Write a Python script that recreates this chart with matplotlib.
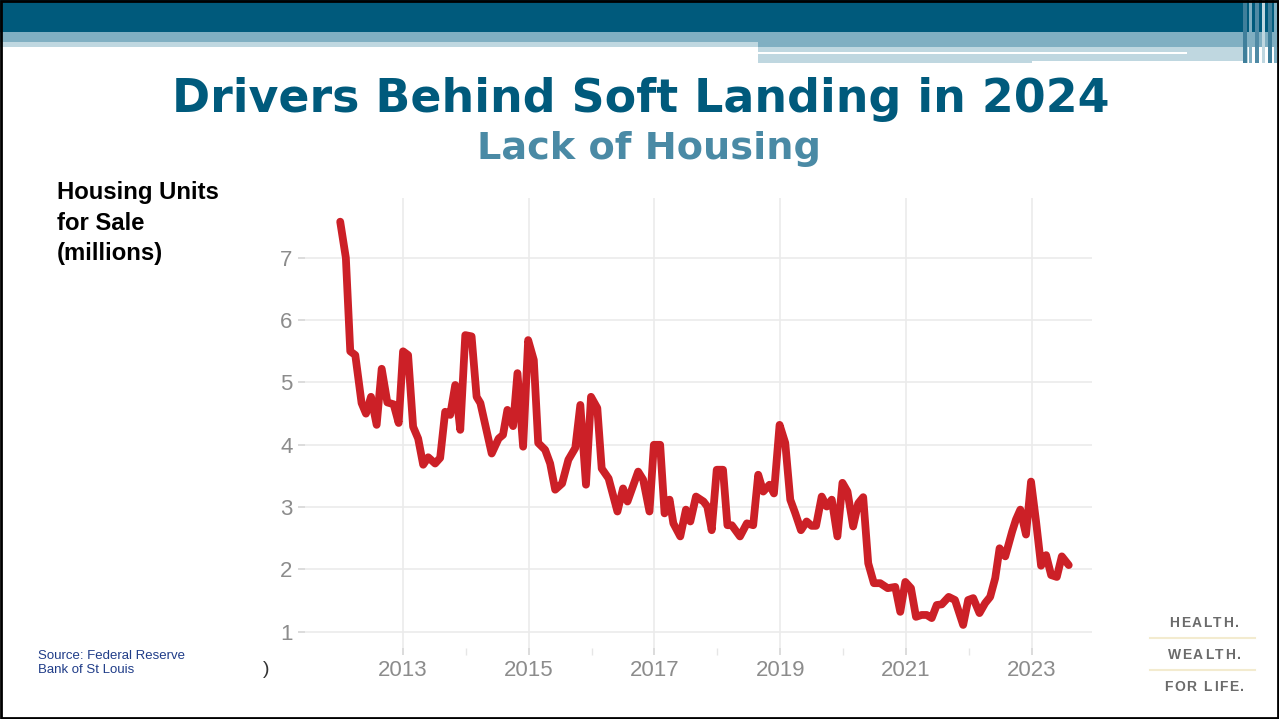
import matplotlib
matplotlib.use("Agg")
import matplotlib.pyplot as plt
from matplotlib.patches import Rectangle
from matplotlib.textpath import TextPath
from matplotlib.font_manager import FontProperties

plt.rcParams["font.family"] = ["Liberation Sans", "DejaVu Sans"]

# ---------------------------------------------------------------------------
# Data (decimal years / millions of units)
# ---------------------------------------------------------------------------
years = [
    2012.00, 2012.09, 2012.16, 2012.24, 2012.34, 2012.41, 2012.49, 2012.58, 2012.66, 2012.75,
    2012.85, 2012.93, 2013.00, 2013.08, 2013.16, 2013.24, 2013.32, 2013.40, 2013.51, 2013.59,
    2013.67, 2013.75, 2013.83, 2013.91, 2013.99, 2014.09, 2014.17, 2014.23, 2014.41, 2014.52,
    2014.59, 2014.66, 2014.75, 2014.82, 2014.91, 2014.99, 2015.08, 2015.15, 2015.26, 2015.34,
    2015.42, 2015.53, 2015.63, 2015.74, 2015.82, 2015.91, 2015.99, 2016.09, 2016.16, 2016.27,
    2016.41, 2016.50, 2016.57, 2016.74, 2016.82, 2016.92, 2016.99, 2017.09, 2017.16, 2017.24,
    2017.30, 2017.41, 2017.50, 2017.57, 2017.66, 2017.78, 2017.84, 2017.91, 2017.99, 2018.09,
    2018.16, 2018.23, 2018.36, 2018.47, 2018.57, 2018.65, 2018.73, 2018.83, 2018.90, 2018.99,
    2019.08, 2019.16, 2019.24, 2019.33, 2019.42, 2019.50, 2019.57, 2019.66, 2019.74, 2019.82,
    2019.91, 2019.99, 2020.07, 2020.16, 2020.24, 2020.32, 2020.40, 2020.49, 2020.59, 2020.71,
    2020.83, 2020.91, 2020.99, 2021.08, 2021.16, 2021.25, 2021.33, 2021.41, 2021.49, 2021.57,
    2021.68, 2021.78, 2021.91, 2021.99, 2022.07, 2022.17, 2022.26, 2022.34, 2022.42, 2022.49,
    2022.58, 2022.69, 2022.75, 2022.82, 2022.91, 2022.99, 2023.07, 2023.15, 2023.23, 2023.31,
    2023.40, 2023.48, 2023.59,
]
units = [
    7.58, 7.00, 5.50, 5.44, 4.67, 4.50, 4.77, 4.32, 5.22, 4.68,
    4.65, 4.35, 5.50, 5.44, 4.29, 4.10, 3.68, 3.80, 3.70, 3.79,
    4.53, 4.48, 4.96, 4.24, 5.76, 5.74, 4.77, 4.67, 3.86, 4.10,
    4.16, 4.56, 4.30, 5.15, 3.97, 5.68, 5.36, 4.03, 3.92, 3.70,
    3.28, 3.38, 3.76, 3.95, 4.64, 3.36, 4.77, 4.59, 3.62, 3.46,
    2.93, 3.30, 3.09, 3.57, 3.44, 2.93, 4.00, 4.00, 2.90, 3.12,
    2.74, 2.53, 2.96, 2.77, 3.17, 3.09, 3.01, 2.63, 3.60, 3.60,
    2.71, 2.71, 2.53, 2.74, 2.71, 3.52, 3.25, 3.36, 3.22, 4.32,
    4.03, 3.12, 2.90, 2.63, 2.77, 2.70, 2.70, 3.17, 3.01, 3.12,
    2.53, 3.39, 3.25, 2.69, 3.06, 3.16, 2.10, 1.78, 1.78, 1.70,
    1.72, 1.32, 1.80, 1.70, 1.24, 1.27, 1.27, 1.22, 1.43, 1.44,
    1.56, 1.51, 1.11, 1.51, 1.54, 1.30, 1.46, 1.56, 1.86, 2.34,
    2.21, 2.61, 2.80, 2.96, 2.56, 3.41, 2.77, 2.06, 2.23, 1.91,
    1.88, 2.21, 2.07,
]
xticks = [2013, 2015, 2017, 2019, 2021, 2023]
yticks = [1, 2, 3, 4, 5, 6, 7]

TEAL = "#005a7c"
W, H = 1279, 719

fig = plt.figure(figsize=(W / 100, H / 100), dpi=100)

# background layer in pixel coordinates
bg = fig.add_axes([0, 0, 1, 1], zorder=0)
bg.set_xlim(0, W)
bg.set_ylim(H, 0)
bg.axis("off")


def rect(x, y, w, h, color):
    bg.add_patch(Rectangle((x, y), w, h, color=color, lw=0))


rect(0, 0, W, 32, TEAL)
rect(0, 32, W, 10, "#80afc2")
rect(0, 42, 758, 5, "#bfd7e0")
rect(758, 42, W - 758, 5, "#80afc2")
rect(758, 47, 490, 16, "#bfd7e0")
rect(758, 52, 429, 2, "white")
rect(1032, 61, 215, 3, "white")
for sx, sw, c in [(1243, 4, "#3f7f9b"), (1249, 3, "#80afc2"), (1255, 4, "#4f8aa5"),
                  (1262, 3, "#bfd7e0"), (1268, 4, "#3f7f9b"), (1274, 3, "#80afc2")]:
    rect(sx, 0, sw, 63, c)
# frame
bg.add_patch(Rectangle((1, 1), W - 2.5, H - 2.5, fill=False, ec="black", lw=2))

bg.text(641, 99, "Drivers Behind Soft Landing in 2024", ha="center", va="center",
        fontsize=33, fontweight="bold", color=TEAL, family="DejaVu Sans")
bg.text(649, 149, "Lack of Housing", ha="center", va="center",
        fontsize=27.5, fontweight="bold", color="#4a8aa5", family="DejaVu Sans")
bg.text(57, 181, "Housing Units\nfor Sale\n(millions)", ha="left", va="top",
        fontsize=17.2, fontweight="bold", color="black", linespacing=1.42)
bg.text(38, 663, "Source: Federal Reserve\nBank of St Louis", ha="left", va="center",
        fontsize=9.5, color="#1f3c88", linespacing=1.3)
bg.text(266, 670, ")", ha="center", va="center", fontsize=14, color="#333333")

# tagline with letter spacing
fp = FontProperties(family="Liberation Sans", weight="bold", size=10)


def ink_w(s):
    return TextPath((0, 0), s, prop=fp).get_extents().width * 100 / 72


def spaced(x, y, s, track=1.6):
    base = ink_w("||")
    adv = [ink_w("|" + ch + "|") - base for ch in s]
    total = sum(adv) + track * (len(s) - 1)
    cx = x - total / 2
    for ch, a in zip(s, adv):
        bg.text(cx, y, ch, ha="left", va="center", fontproperties=fp, color="#6b6b6b")
        cx += a + track


spaced(1204, 623, "HEALTH.")
spaced(1204, 655, "WEALTH.")
spaced(1204, 687, "FOR LIFE.")
bg.plot([1150, 1255], [638, 638], color="#f3ebcf", lw=1.5)
bg.plot([1150, 1255], [670, 670], color="#f3ebcf", lw=1.5)

# ---------------------------------------------------------------------------
# Chart
# ---------------------------------------------------------------------------
ax = fig.add_axes([305 / W, 1 - 648 / H, (1092 - 305) / W, (648 - 198) / H], zorder=2)
ax.patch.set_alpha(0)
ax.plot(years, units, color="#cc2027", lw=5.6, solid_joinstyle="round", solid_capstyle="round")
ax.set_xlim(2011.44, 2023.96)
ax.set_ylim(0.74, 7.96)
ax.set_xticks(xticks)
ax.set_xticklabels([str(t) for t in xticks])
ax.set_xticks([2014, 2016, 2018, 2020, 2022], minor=True)
ax.set_yticks(yticks)
for s in ax.spines.values():
    s.set_visible(False)
ax.grid(True, which="major", color="#ebebeb", lw=1.2)
ax.tick_params(axis="both", which="major", labelsize=16, labelcolor="#8c8c8c",
               color="#d5d5d5", length=5, width=1.2, pad=4)
ax.tick_params(axis="x", which="minor", color="#e6e6e6", length=5, width=1)
ax.set_axisbelow(True)

fig.savefig("out.png", dpi=100)
